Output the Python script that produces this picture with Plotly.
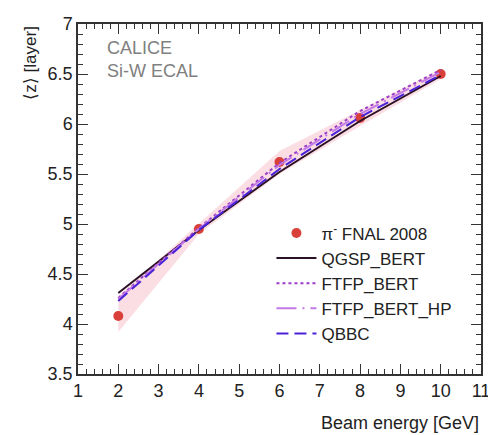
import plotly.graph_objects as go

energy = [2, 4, 6, 8, 10]
data_z = [4.08, 4.95, 5.62, 6.06, 6.50]
band_low = [3.92, 4.90, 5.50, 5.98, 6.45]
band_high = [4.28, 5.00, 5.73, 6.14, 6.55]
qgsp_bert = [4.31, 4.94, 5.52, 6.03, 6.48]
ftfp_bert = [4.26, 4.96, 5.61, 6.13, 6.54]
ftfp_bert_hp = [4.25, 4.95, 5.59, 6.10, 6.52]
qbbc = [4.23, 4.94, 5.55, 6.07, 6.49]

font = "Liberation Sans, Arial, sans-serif"
fig = go.Figure()

# error band
fig.add_trace(go.Scatter(x=energy, y=band_high, mode="lines", line=dict(width=0),
                         showlegend=False, hoverinfo="skip"))
fig.add_trace(go.Scatter(x=energy, y=band_low, mode="lines", line=dict(width=0),
                         fill="tonexty", fillcolor="rgba(240,160,175,0.35)",
                         showlegend=False, hoverinfo="skip"))

fig.add_trace(go.Scatter(x=energy, y=data_z, mode="markers", name="π<sup>-</sup> FNAL 2008",
                         marker=dict(color="#d9403a", size=10)))
fig.add_trace(go.Scatter(x=energy, y=qgsp_bert, mode="lines", name="QGSP_BERT",
                         line=dict(color="#2a1025", width=2)))
fig.add_trace(go.Scatter(x=energy, y=ftfp_bert, mode="lines", name="FTFP_BERT",
                         line=dict(color="#9a3cc8", width=2, dash="dot")))
fig.add_trace(go.Scatter(x=energy, y=ftfp_bert_hp, mode="lines", name="FTFP_BERT_HP",
                         line=dict(color="#c47ae6", width=2, dash="20px,6px,2px,6px")))
fig.add_trace(go.Scatter(x=energy, y=qbbc, mode="lines", name="QBBC",
                         line=dict(color="#4a22d8", width=2, dash="12px,6px")))

axis_common = dict(showgrid=False, zeroline=False, showline=True, linecolor="#333",
                   linewidth=1.5, mirror="ticks", ticks="inside", ticklen=10,
                   tickcolor="#333", tickwidth=1.2, ticklabeloverflow="allow",
                   tickfont=dict(family=font, size=18, color="#222"))

fig.update_xaxes(range=[1, 11], tick0=1, dtick=1,
                 minor=dict(ticks="inside", ticklen=5, dtick=0.2, tickcolor="#333"),
                 **axis_common)
fig.update_yaxes(range=[3.5, 7], tick0=3.5, dtick=0.5, tickformat="~g",
                 minor=dict(ticks="inside", ticklen=5, dtick=0.1, tickcolor="#333"),
                 **axis_common)

# page body has an 8px default margin, so the figure is 8px smaller
fig.update_layout(
    width=488, height=427,
    margin=dict(l=70, r=9, t=6, b=61),
    plot_bgcolor="white", paper_bgcolor="white",
    font=dict(family=font, color="#222"),
    legend=dict(x=0.48, y=0.453, xanchor="left", yanchor="top", traceorder="normal",
                bgcolor="rgba(0,0,0,0)", font=dict(family=font, size=17, color="#222"),
                tracegroupgap=0, itemwidth=40),
    annotations=[
        dict(text="CALICE<br>Si-W ECAL", x=0.068, y=0.966, xref="paper", yref="paper",
             xanchor="left", yanchor="top", align="left", showarrow=False,
             font=dict(family=font, size=18, color="#808080")),
        dict(text="Beam energy [GeV]", x=1.0, y=-0.105, xref="paper", yref="paper",
             xanchor="right", yanchor="top", showarrow=False,
             font=dict(family=font, size=18, color="#222")),
        dict(text="⟨z⟩ [layer]", x=-0.12, y=1.0, xref="paper", yref="paper",
             xanchor="center", yanchor="top", showarrow=False, textangle=-90,
             font=dict(family=font, size=17, color="#222")),
    ],
)

fig.write_html("out.html")
